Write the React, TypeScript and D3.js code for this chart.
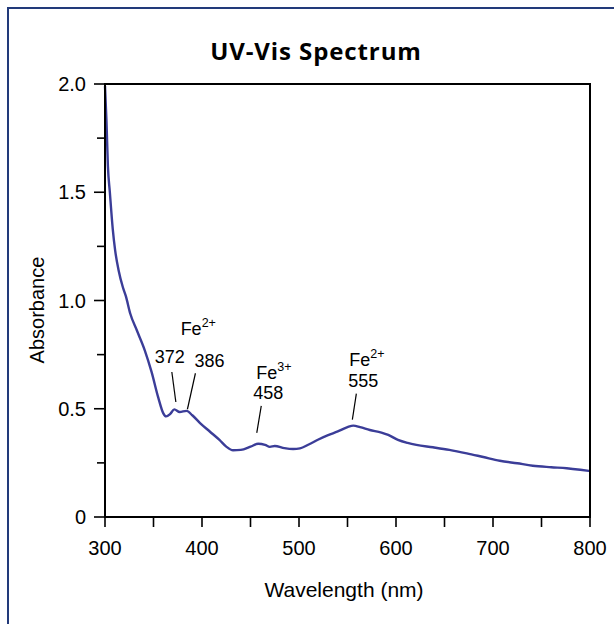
import React, { useEffect, useRef } from "react";
import * as d3 from "d3";

// spectrum
const wavelengths = [
  300, 301.5, 303, 305, 308, 310.5, 314, 318.5, 321.5, 326, 333, 341, 348, 355,
  360, 363, 367, 371.5, 377, 384, 390, 398, 408, 418, 425, 432, 440, 450, 458,
  465, 470, 475, 485, 494, 501, 510, 520, 530, 540, 550, 556, 563, 573, 585,
  592, 602, 612, 621, 638, 655, 673, 690, 707, 725, 741, 760, 776, 790, 800,
];
const absorbance = [
  1.99, 1.83, 1.62, 1.5, 1.33, 1.23, 1.14, 1.06, 1.02, 0.94, 0.86, 0.77, 0.67,
  0.55, 0.48, 0.465, 0.475, 0.497, 0.485, 0.49, 0.47, 0.434, 0.395, 0.356,
  0.325, 0.308, 0.31, 0.325, 0.338, 0.333, 0.324, 0.328, 0.318, 0.314, 0.317,
  0.335, 0.358, 0.378, 0.395, 0.415, 0.422, 0.415, 0.402, 0.39, 0.379, 0.356,
  0.342, 0.333, 0.322, 0.31, 0.294, 0.277, 0.26, 0.248, 0.237, 0.23, 0.225,
  0.218, 0.212,
];

const xTicks = [300, 350, 400, 450, 500, 550, 600, 650, 700, 750, 800];
const xTickLabels = ["300", "", "400", "", "500", "", "600", "", "700", "", "800"];
const yTicks = [0, 0.25, 0.5, 0.75, 1, 1.25, 1.5, 1.75, 2];
const yTickLabels = ["0", "", "0.5", "", "1.0", "", "1.5", "", "2.0"];

// peak labels
const peakWavelengths = [372, 386, 458, 555];
const peakLabels = ["372", "386", "458", "555"];
const ionLabels = [
  { wl: 379, ion: "Fe", charge: "2+" },
  { wl: 458, ion: "Fe", charge: "3+" },
  { wl: 555, ion: "Fe", charge: "2+" },
];

// layout offsets for the peak annotations (px from peak point)
const peakLayout = [
  { tx: -5, ty: -49, x1: -3, y1: -40, x2: 1, y2: -10 },
  { tx: 21, ty: -48, x1: 7, y1: -42, x2: -1, y2: -6 },
  { tx: 10, ty: -45, x1: 3, y1: -38, x2: -1.5, y2: -11 },
  { tx: 11, ty: -39, x1: 4, y1: -32, x2: 0, y2: -6 },
];
const ionLayout = [
  { dx: -1, y: 335 },
  { dx: -2, y: 379 },
  { dx: -3, y: 366 },
];

const App = () => {
  const ref = useRef<SVGSVGElement>(null);

  useEffect(() => {
    const width = 614;
    const height = 624;
    const m = { left: 105, right: 24, top: 84, bottom: 107 };
    const font = "'Liberation Sans', Arial, sans-serif";
    const lineColor = "#3b3d98";

    const svg = d3.select(ref.current);
    svg.selectAll("*").remove();

    // outer frame
    svg
      .append("rect")
      .attr("x", 8)
      .attr("y", 8)
      .attr("width", width + 20)
      .attr("height", height + 20)
      .attr("fill", "#fff")
      .attr("stroke", "#223a7a")
      .attr("stroke-width", 2);

    const x = d3
      .scaleLinear()
      .domain([300, 800])
      .range([m.left, width - m.right]);
    const y = d3
      .scaleLinear()
      .domain([0, 2])
      .range([height - m.bottom, m.top]);

    const data = wavelengths.map((w, i) => ({ w, a: absorbance[i] }));
    const peakA = (w: number) => {
      const i = wavelengths.findIndex((v) => v >= w);
      return absorbance[i];
    };

    svg
      .append("text")
      .attr("x", 316)
      .attr("y", 60)
      .attr("text-anchor", "middle")
      .style("font-family", "'Open Sans', sans-serif")
      .style("font-weight", 700)
      .style("font-size", "24px")
      .style("letter-spacing", "0.9px")
      .text("UV-Vis Spectrum");

    // curve
    const line = d3
      .line<{ w: number; a: number }>()
      .x((d) => x(d.w))
      .y((d) => y(d.a))
      .curve(d3.curveMonotoneX);

    svg
      .append("path")
      .datum(data)
      .attr("d", line)
      .attr("fill", "none")
      .attr("stroke", lineColor)
      .attr("stroke-width", 2.4)
      .attr("stroke-linejoin", "round");

    // frame
    svg
      .append("rect")
      .attr("x", x(300))
      .attr("y", y(2))
      .attr("width", x(800) - x(300))
      .attr("height", y(0) - y(2))
      .attr("fill", "none")
      .attr("stroke", "#000")
      .attr("stroke-width", 2);

    // x ticks
    const gx = svg.append("g");
    xTicks.forEach((t, i) => {
      gx.append("line")
        .attr("x1", x(t))
        .attr("x2", x(t))
        .attr("y1", y(0))
        .attr("y2", y(0) + 10)
        .attr("stroke", "#000")
        .attr("stroke-width", 1.6);
      if (xTickLabels[i])
        gx.append("text")
          .attr("x", x(t))
          .attr("y", 555)
          .attr("text-anchor", "middle")
          .style("font-family", font)
          .style("font-size", "20px")
          .text(xTickLabels[i]);
    });

    // y ticks
    const gy = svg.append("g");
    yTicks.forEach((t, i) => {
      const major = yTickLabels[i] !== "";
      gy.append("line")
        .attr("x1", x(300) - (major ? 11 : 8))
        .attr("x2", x(300))
        .attr("y1", y(t))
        .attr("y2", y(t))
        .attr("stroke", "#000")
        .attr("stroke-width", 1.6);
      if (major)
        gy.append("text")
          .attr("x", 86)
          .attr("y", y(t))
          .attr("dy", "0.35em")
          .attr("text-anchor", "end")
          .style("font-family", font)
          .style("font-size", "20px")
          .text(yTickLabels[i]);
    });

    svg
      .append("text")
      .attr("x", 344)
      .attr("y", 597)
      .attr("text-anchor", "middle")
      .style("font-family", font)
      .style("font-size", "21px")
      .text("Wavelength (nm)");

    svg
      .append("text")
      .attr("transform", `translate(44,310) rotate(-90)`)
      .attr("text-anchor", "middle")
      .style("font-family", font)
      .style("font-size", "20px")
      .text("Absorbance");

    // peak annotations
    peakWavelengths.forEach((w, i) => {
      const px = x(w);
      const py = y(peakA(w));
      const l = peakLayout[i];
      svg
        .append("line")
        .attr("x1", px + l.x1)
        .attr("y1", py + l.y1)
        .attr("x2", px + l.x2)
        .attr("y2", py + l.y2)
        .attr("stroke", "#000")
        .attr("stroke-width", 1.2);
      svg
        .append("text")
        .attr("x", px + l.tx)
        .attr("y", py + l.ty)
        .attr("text-anchor", "middle")
        .style("font-family", font)
        .style("font-size", "18px")
        .text(peakLabels[i]);
    });

    ionLabels.forEach((d, i) => {
      const t = svg
        .append("text")
        .attr("x", x(d.wl) + ionLayout[i].dx)
        .attr("y", ionLayout[i].y)
        .style("font-family", font)
        .style("font-size", "18px");
      t.append("tspan").text(d.ion);
      t.append("tspan")
        .attr("dy", -8)
        .style("font-size", "12.5px")
        .text(d.charge);
    });
  }, []);

  return (
    <svg
      ref={ref}
      width={614}
      height={624}
      style={{ position: "absolute", left: 0, top: 0, background: "#fff" }}
    />
  );
};

export default App;
